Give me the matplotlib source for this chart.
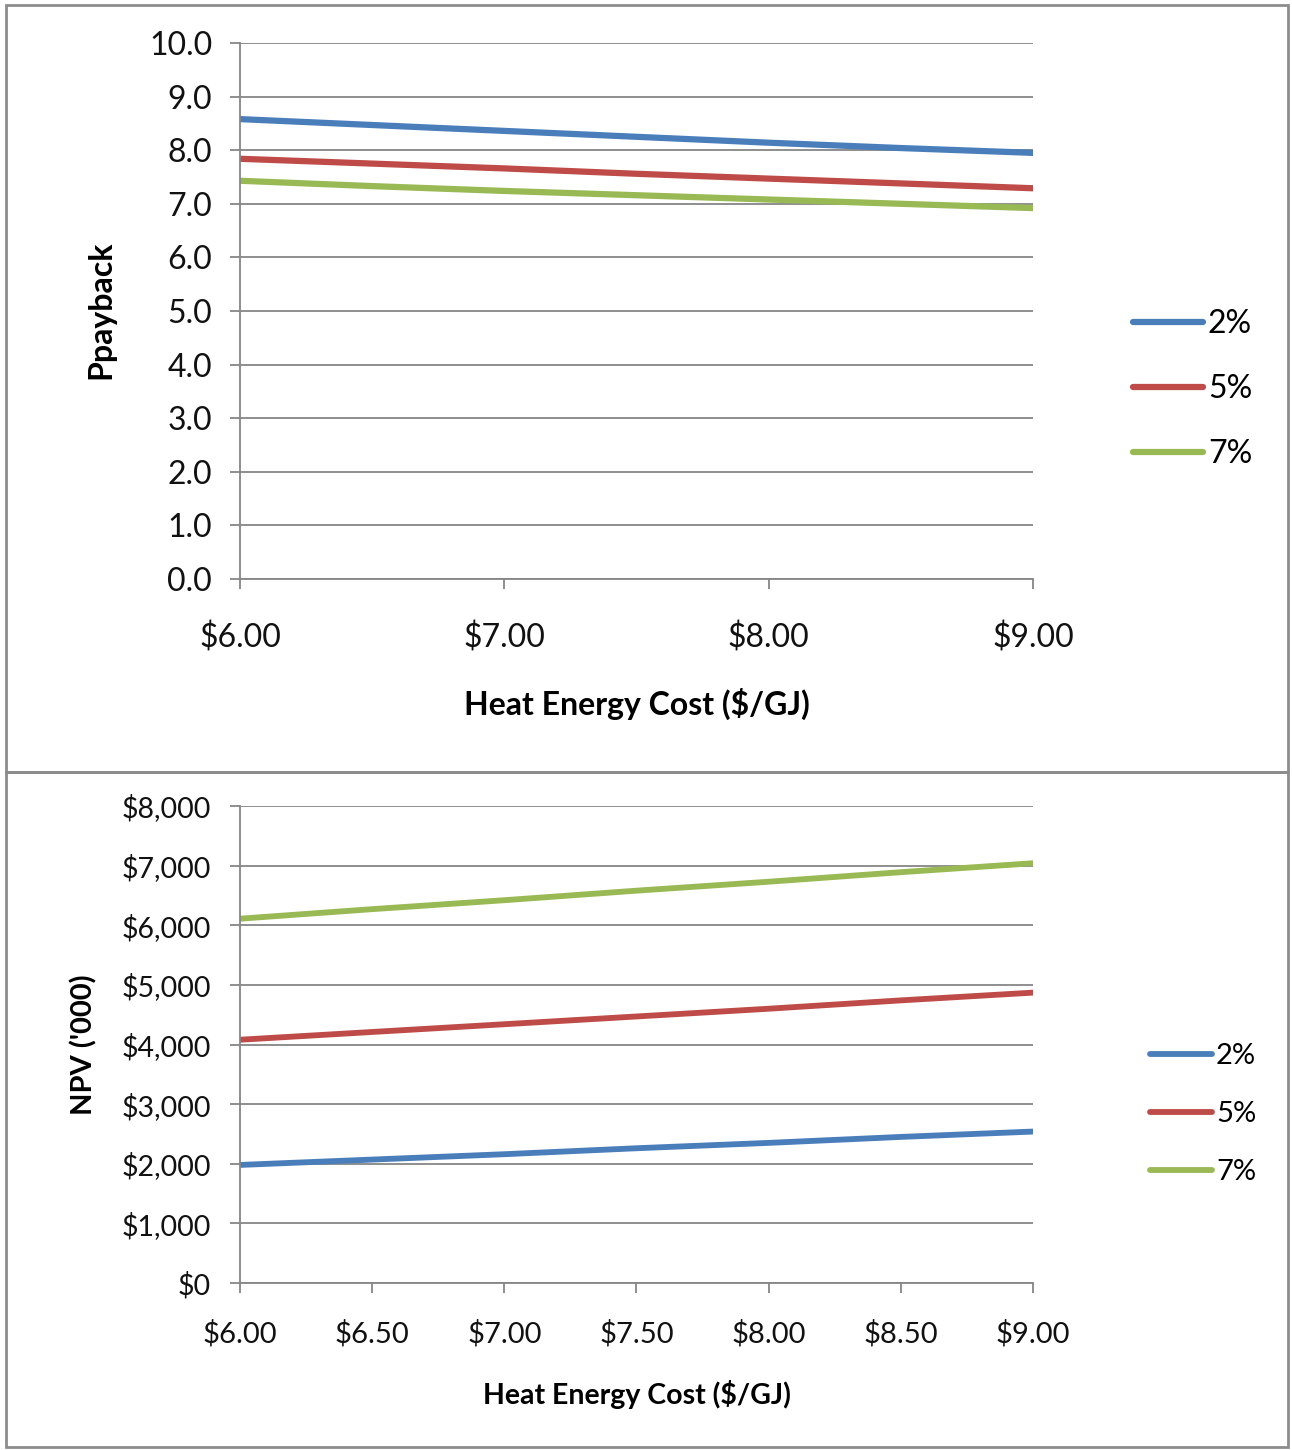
import numpy as np
import matplotlib
matplotlib.use('Agg')
import matplotlib.pyplot as plt
from matplotlib.patches import Rectangle

plt.rcParams['font.family'] = ['Lato', 'DejaVu Sans']

# data
costo = [6.0, 6.5, 7.0, 7.5, 8.0, 8.5, 9.0]
tasas = ['2%', '5%', '7%']
colores = ['#4A7EBB', '#BE4B48', '#98B954']

payback_2 = [8.58, 8.47, 8.36, 8.25, 8.14, 8.04, 7.95]
payback_5 = [7.84, 7.75, 7.66, 7.56, 7.47, 7.38, 7.29]
payback_7 = [7.43, 7.33, 7.24, 7.16, 7.08, 7.00, 6.92]

npv_2 = [1980, 2070, 2160, 2260, 2350, 2450, 2540]
npv_5 = [4080, 4210, 4340, 4470, 4600, 4740, 4870]
npv_7 = [6110, 6270, 6420, 6580, 6730, 6890, 7040]

W, H = 1292, 1450
fig = plt.figure(figsize=(W / 100, H / 100), dpi=100)

def fx(px):
    return px / W

def fy(py):
    return 1 - py / H

# panel borders
for (y0, y1) in [(5, 772), (772, 1447)]:
    fig.patches.append(Rectangle((fx(6), fy(y1)), fx(1288) - fx(6), fy(y0) - fy(y1),
                                 transform=fig.transFigure, fill=False,
                                 edgecolor='#8c8c8c', linewidth=2))

gris = '#868686'

def estilo(ax, tick_size, xpad, ypad):
    for s in ['top', 'right']:
        ax.spines[s].set_visible(False)
    for s in ['left', 'bottom']:
        ax.spines[s].set_color(gris)
        ax.spines[s].set_linewidth(1.3)
    ax.grid(axis='y', color=gris, linewidth=1.3)
    ax.set_axisbelow(True)
    ax.tick_params(direction='out', length=7, width=1.3, color=gris,
                   labelsize=tick_size, labelcolor='#111111')
    ax.tick_params(axis='x', pad=xpad)
    ax.tick_params(axis='y', pad=ypad)

# top chart: payback
ax1 = fig.add_axes([fx(240), fy(579), fx(1033) - fx(240), fy(43) - fy(579)])
for serie, lab, c in zip([payback_2, payback_5, payback_7], tasas, colores):
    ax1.plot(costo, serie, color=c, linewidth=4.5, label=lab, solid_capstyle='round')
ax1.set_xlim(6, 9)
ax1.set_ylim(0, 10)
ax1.set_yticks(np.arange(0, 10.5, 1))
ax1.set_yticklabels([f'{v:.1f}' for v in np.arange(0, 10.5, 1)])
ax1.set_xticks([6, 7, 8, 9])
ax1.set_xticklabels(['$6.00', '$7.00', '$8.00', '$9.00'])
estilo(ax1, 23, 24, 13)
ax1.tick_params(axis='x', labelsize=23)
ax1.set_xlabel('Heat Energy Cost ($/GJ)', fontsize=23, fontweight='bold')
ax1.xaxis.set_label_coords(fx(637), fy(688), transform=fig.transFigure)
ax1.set_ylabel('Ppayback', fontsize=23, fontweight='bold')
ax1.yaxis.set_label_coords(fx(115), fy(310), transform=fig.transFigure)
ax1.legend(loc='center left', bbox_to_anchor=(fx(1104), fy(389)),
           bbox_transform=fig.transFigure, frameon=False, fontsize=23,
           handlelength=2.2, handletextpad=0.15, labelspacing=1.1)

# bottom chart: NPV
ax2 = fig.add_axes([fx(240), fy(1283), fx(1033) - fx(240), fy(806) - fy(1283)])
for serie, lab, c in zip([npv_2, npv_5, npv_7], tasas, colores):
    ax2.plot(costo, serie, color=c, linewidth=4.2, label=lab, solid_capstyle='round')
ax2.set_xlim(6, 9)
ax2.set_ylim(0, 8000)
ax2.set_yticks(range(0, 8001, 1000))
ax2.set_yticklabels([f'${v:,}' for v in range(0, 8001, 1000)])
ax2.set_xticks(costo)
ax2.set_xticklabels([f'${v:.2f}' for v in costo])
estilo(ax2, 20.5, 20, 14)
ax2.tick_params(axis='x', labelsize=21)
ax2.set_xlabel('Heat Energy Cost ($/GJ)', fontsize=20.5, fontweight='bold')
ax2.xaxis.set_label_coords(fx(637), fy(1380), transform=fig.transFigure)
ax2.set_ylabel("NPV ('000)", fontsize=21, fontweight='bold')
ax2.yaxis.set_label_coords(fx(97), fy(1045), transform=fig.transFigure)
ax2.legend(loc='center left', bbox_to_anchor=(fx(1124), fy(1114)),
           bbox_transform=fig.transFigure, frameon=False, fontsize=21,
           handlelength=2.1, handletextpad=0.15, labelspacing=1.1)

fig.savefig('out.png', dpi=100, facecolor='white')
